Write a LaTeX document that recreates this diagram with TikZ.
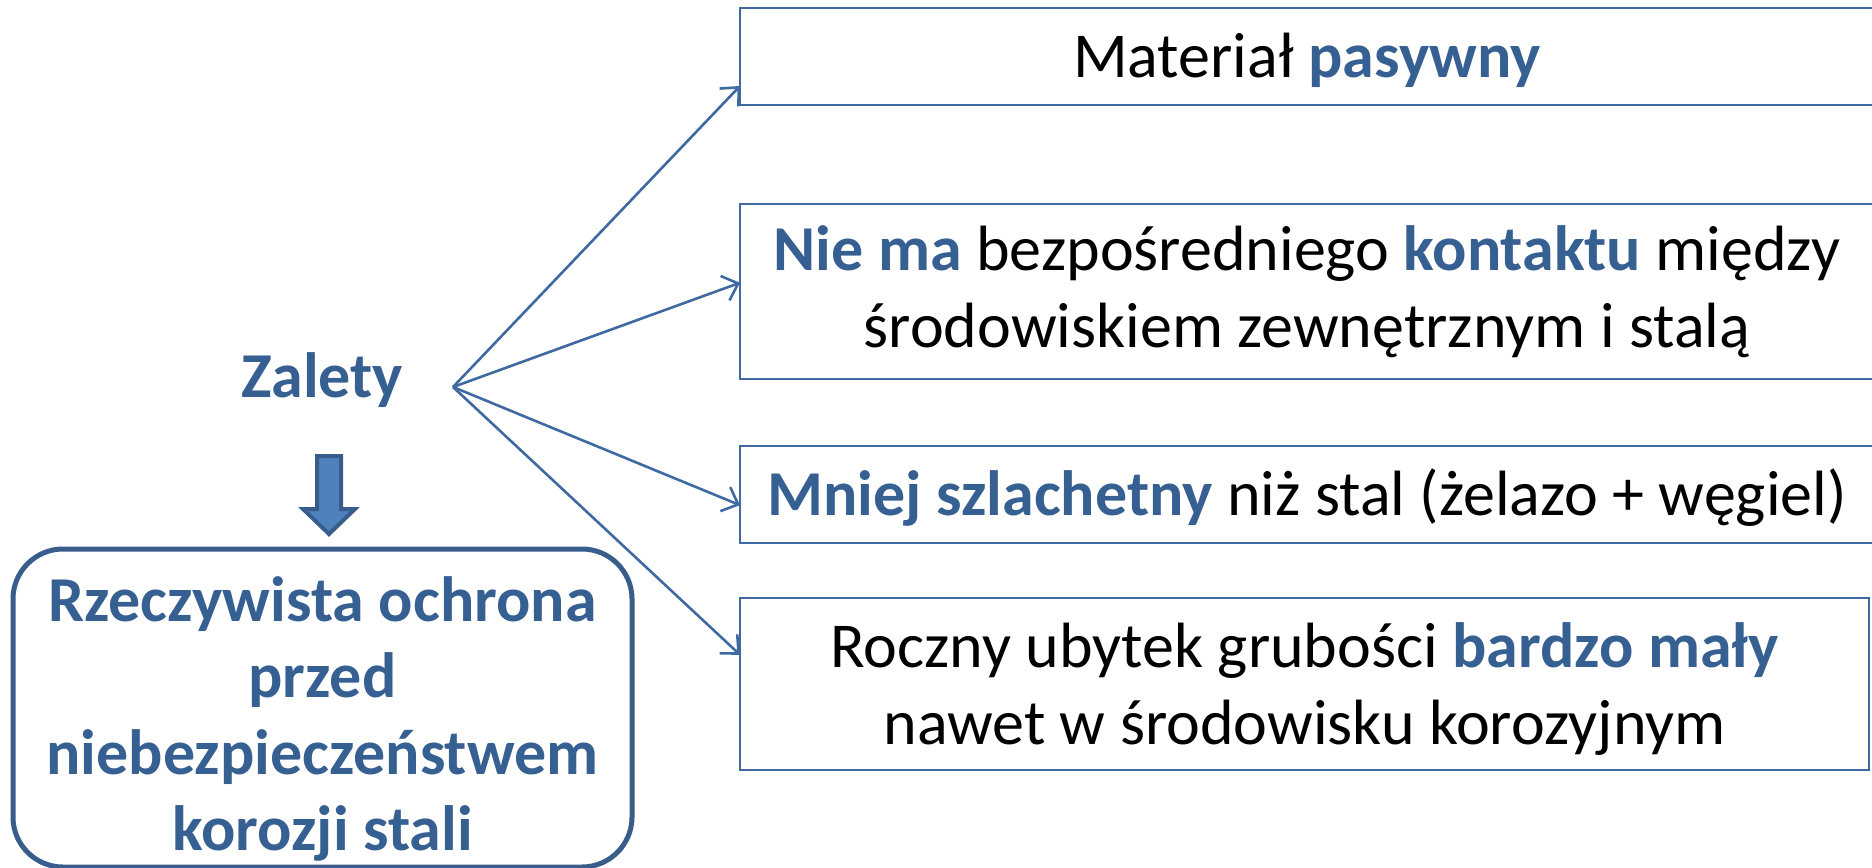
\documentclass[tikz,border=0pt]{standalone}
\usepackage{fontspec}
\setmainfont{Carlito}
\usetikzlibrary{arrows.meta,calc}
\definecolor{accent}{HTML}{376092}
\definecolor{edge}{HTML}{3F6AA1}
\definecolor{frame}{HTML}{385D8A}
\definecolor{fillblue}{HTML}{4F81BD}
\newcommand{\hl}[1]{\textbf{\textcolor{accent}{#1}}}

\begin{document}
\begin{tikzpicture}[x=0.5pt,y=-0.5pt,
  every node/.style={inner sep=0pt, outer sep=0pt},
  big/.style={font=\fontsize{32}{38.2}\selectfont},
  bigbold/.style={font=\fontsize{32}{38.2}\selectfont\bfseries, text=accent},
  infobox/.style={big, draw=edge, line width=1.4pt, anchor=north west, align=center},
  conn/.style={draw=edge, line width=1.3pt, -{Straight Barb[length=7pt,width=13pt]}},
  blockarrow/.style={fill=fillblue, draw=frame, line width=2pt, line join=miter},
]
\useasboundingbox (0,0) rectangle (1872,867);
\clip (0,0) rectangle (1872,867);

% right-hand column of statements
\node[infobox, minimum width=567pt, minimum height=48.5pt,
      text height=20.5pt, text depth=0pt] (b1) at (740,8)
  {Materiał \hl{pasywny}};
\node[infobox, minimum width=567pt, minimum height=87.5pt] (b2) at (740,204)
  {\hl{Nie ma} bezpośredniego \hl{kontaktu} między\\środowiskiem zewnętrznym i stalą};
\node[infobox, minimum width=567pt, minimum height=48.5pt,
      text height=20.5pt, text depth=0pt] (b3) at (740,446)
  {\hl{Mniej szlachetny} niż stal (żelazo + węgiel)};
\node[infobox, minimum width=564.5pt, minimum height=86pt] (b4) at (740,598) {};
\node[big, align=center] (b4text) at ($(b4.center)+(0,5)$)
  {Roczny ubytek grubości \hl{bardzo mały}\\nawet w środowisku korozyjnym};

% left-hand summary
\node[bigbold, anchor=base] (z) at (322,397) {Zalety};
\node[draw=frame, line width=2.5pt, rounded corners=25pt,
      minimum width=309.5pt, minimum height=159pt, anchor=north west] (rb) at (13,549) {};
\node[bigbold, align=center] (rbtext) at ($(rb.center)+(0,11)$)
  {Rzeczywista ochrona\\przed\\niebezpieczeństwem\\korozji stali};

% block arrow between the two
\draw[blockarrow] (317,456) -- (341,456) -- (341,509) -- (355,509)
  -- (329,534) -- (303,509) -- (317,509) -- cycle;

% fan of connectors
\coordinate (o) at (453,387);
\draw[conn] (o) -- ($(b1.south west)!0.196!(b1.north west)$);
\draw[conn] (o) -- ($(b2.south west)!0.55!(b2.north west)$);
\draw[conn] (o) -- ($(b3.south west)!0.39!(b3.north west)$);
\draw[conn] (o) -- ($(b4.south west)!0.67!(b4.north west)$);
\end{tikzpicture}
\end{document}
